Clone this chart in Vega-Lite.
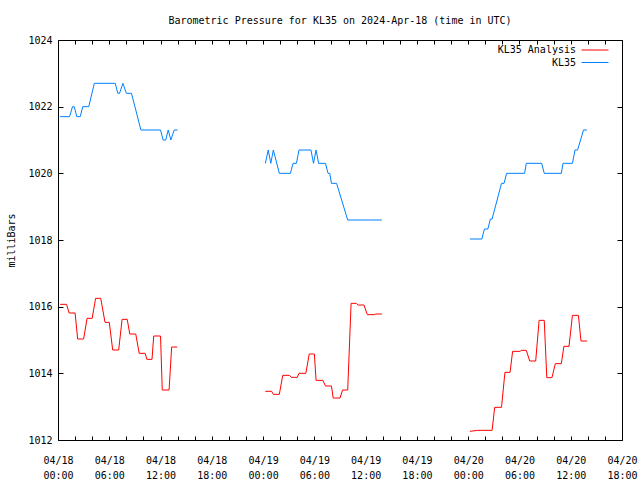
{
  "$schema": "https://vega.github.io/schema/vega-lite/v6.json",
  "width": 564,
  "height": 400,
  "autosize": {"type": "none"},
  "padding": {"left": 58, "top": 40, "right": 18, "bottom": 40},
  "background": "white",
  "title": {"text": "Barometric Pressure for KL35 on 2024-Apr-18 (time in UTC)", "font": "DejaVu Sans Mono", "fontSize": 10, "fontWeight": "normal", "color": "black", "frame": "group", "anchor": "middle", "baseline": "bottom", "offset": -1},
  "config": {
    "view": {"stroke": null},
    "font": "DejaVu Sans Mono",
    "axis": {"labelFont": "DejaVu Sans Mono", "titleFont": "DejaVu Sans Mono", "labelFontSize": 10, "titleFontSize": 10, "titleFontWeight": "normal", "labelColor": "black", "titleColor": "black", "tickColor": "black", "domainColor": "black", "tickWidth": 1, "domainWidth": 1, "grid": false}
  },
  "data": {"values": [
    {"s":"KL35 Analysis","g":1,"t":"2024-04-18T00:15:00Z","p":1016.07},
    {"s":"KL35 Analysis","g":1,"t":"2024-04-18T01:00:00Z","p":1016.07},
    {"s":"KL35 Analysis","g":1,"t":"2024-04-18T01:18:00Z","p":1015.81},
    {"s":"KL35 Analysis","g":1,"t":"2024-04-18T02:00:00Z","p":1015.81},
    {"s":"KL35 Analysis","g":1,"t":"2024-04-18T02:18:00Z","p":1015.03},
    {"s":"KL35 Analysis","g":1,"t":"2024-04-18T03:00:00Z","p":1015.03},
    {"s":"KL35 Analysis","g":1,"t":"2024-04-18T03:24:00Z","p":1015.65},
    {"s":"KL35 Analysis","g":1,"t":"2024-04-18T04:00:00Z","p":1015.65},
    {"s":"KL35 Analysis","g":1,"t":"2024-04-18T04:24:00Z","p":1016.25},
    {"s":"KL35 Analysis","g":1,"t":"2024-04-18T05:00:00Z","p":1016.25},
    {"s":"KL35 Analysis","g":1,"t":"2024-04-18T05:30:00Z","p":1015.53},
    {"s":"KL35 Analysis","g":1,"t":"2024-04-18T06:00:00Z","p":1015.53},
    {"s":"KL35 Analysis","g":1,"t":"2024-04-18T06:24:00Z","p":1014.7},
    {"s":"KL35 Analysis","g":1,"t":"2024-04-18T07:06:00Z","p":1014.7},
    {"s":"KL35 Analysis","g":1,"t":"2024-04-18T07:30:00Z","p":1015.62},
    {"s":"KL35 Analysis","g":1,"t":"2024-04-18T08:06:00Z","p":1015.62},
    {"s":"KL35 Analysis","g":1,"t":"2024-04-18T08:24:00Z","p":1015.18},
    {"s":"KL35 Analysis","g":1,"t":"2024-04-18T09:06:00Z","p":1015.18},
    {"s":"KL35 Analysis","g":1,"t":"2024-04-18T09:30:00Z","p":1014.6},
    {"s":"KL35 Analysis","g":1,"t":"2024-04-18T10:12:00Z","p":1014.6},
    {"s":"KL35 Analysis","g":1,"t":"2024-04-18T10:24:00Z","p":1014.42},
    {"s":"KL35 Analysis","g":1,"t":"2024-04-18T11:00:00Z","p":1014.42},
    {"s":"KL35 Analysis","g":1,"t":"2024-04-18T11:12:00Z","p":1015.12},
    {"s":"KL35 Analysis","g":1,"t":"2024-04-18T12:00:00Z","p":1015.12},
    {"s":"KL35 Analysis","g":1,"t":"2024-04-18T12:12:00Z","p":1013.5},
    {"s":"KL35 Analysis","g":1,"t":"2024-04-18T13:00:00Z","p":1013.5},
    {"s":"KL35 Analysis","g":1,"t":"2024-04-18T13:18:00Z","p":1014.79},
    {"s":"KL35 Analysis","g":1,"t":"2024-04-18T13:57:00Z","p":1014.79},
    {"s":"KL35 Analysis","g":2,"t":"2024-04-19T00:16:00Z","p":1013.46},
    {"s":"KL35 Analysis","g":2,"t":"2024-04-19T01:00:00Z","p":1013.46},
    {"s":"KL35 Analysis","g":2,"t":"2024-04-19T01:12:00Z","p":1013.37},
    {"s":"KL35 Analysis","g":2,"t":"2024-04-19T01:54:00Z","p":1013.37},
    {"s":"KL35 Analysis","g":2,"t":"2024-04-19T02:18:00Z","p":1013.94},
    {"s":"KL35 Analysis","g":2,"t":"2024-04-19T03:06:00Z","p":1013.94},
    {"s":"KL35 Analysis","g":2,"t":"2024-04-19T03:18:00Z","p":1013.88},
    {"s":"KL35 Analysis","g":2,"t":"2024-04-19T04:00:00Z","p":1013.88},
    {"s":"KL35 Analysis","g":2,"t":"2024-04-19T04:12:00Z","p":1014.0},
    {"s":"KL35 Analysis","g":2,"t":"2024-04-19T05:00:00Z","p":1014.0},
    {"s":"KL35 Analysis","g":2,"t":"2024-04-19T05:24:00Z","p":1014.58},
    {"s":"KL35 Analysis","g":2,"t":"2024-04-19T06:00:00Z","p":1014.58},
    {"s":"KL35 Analysis","g":2,"t":"2024-04-19T06:12:00Z","p":1013.79},
    {"s":"KL35 Analysis","g":2,"t":"2024-04-19T07:00:00Z","p":1013.79},
    {"s":"KL35 Analysis","g":2,"t":"2024-04-19T07:18:00Z","p":1013.62},
    {"s":"KL35 Analysis","g":2,"t":"2024-04-19T08:00:00Z","p":1013.62},
    {"s":"KL35 Analysis","g":2,"t":"2024-04-19T08:12:00Z","p":1013.26},
    {"s":"KL35 Analysis","g":2,"t":"2024-04-19T09:00:00Z","p":1013.26},
    {"s":"KL35 Analysis","g":2,"t":"2024-04-19T09:18:00Z","p":1013.5},
    {"s":"KL35 Analysis","g":2,"t":"2024-04-19T09:54:00Z","p":1013.5},
    {"s":"KL35 Analysis","g":2,"t":"2024-04-19T10:18:00Z","p":1016.1},
    {"s":"KL35 Analysis","g":2,"t":"2024-04-19T10:54:00Z","p":1016.1},
    {"s":"KL35 Analysis","g":2,"t":"2024-04-19T11:06:00Z","p":1016.05},
    {"s":"KL35 Analysis","g":2,"t":"2024-04-19T11:48:00Z","p":1016.05},
    {"s":"KL35 Analysis","g":2,"t":"2024-04-19T12:12:00Z","p":1015.76},
    {"s":"KL35 Analysis","g":2,"t":"2024-04-19T13:00:00Z","p":1015.76},
    {"s":"KL35 Analysis","g":2,"t":"2024-04-19T13:12:00Z","p":1015.78},
    {"s":"KL35 Analysis","g":2,"t":"2024-04-19T13:54:00Z","p":1015.78},
    {"s":"KL35 Analysis","g":3,"t":"2024-04-20T00:12:00Z","p":1012.26},
    {"s":"KL35 Analysis","g":3,"t":"2024-04-20T01:06:00Z","p":1012.29},
    {"s":"KL35 Analysis","g":3,"t":"2024-04-20T02:48:00Z","p":1012.29},
    {"s":"KL35 Analysis","g":3,"t":"2024-04-20T03:06:00Z","p":1012.98},
    {"s":"KL35 Analysis","g":3,"t":"2024-04-20T03:54:00Z","p":1012.98},
    {"s":"KL35 Analysis","g":3,"t":"2024-04-20T04:18:00Z","p":1014.03},
    {"s":"KL35 Analysis","g":3,"t":"2024-04-20T04:54:00Z","p":1014.03},
    {"s":"KL35 Analysis","g":3,"t":"2024-04-20T05:12:00Z","p":1014.66},
    {"s":"KL35 Analysis","g":3,"t":"2024-04-20T06:06:00Z","p":1014.66},
    {"s":"KL35 Analysis","g":3,"t":"2024-04-20T06:12:00Z","p":1014.69},
    {"s":"KL35 Analysis","g":3,"t":"2024-04-20T06:48:00Z","p":1014.69},
    {"s":"KL35 Analysis","g":3,"t":"2024-04-20T07:12:00Z","p":1014.37},
    {"s":"KL35 Analysis","g":3,"t":"2024-04-20T07:54:00Z","p":1014.37},
    {"s":"KL35 Analysis","g":3,"t":"2024-04-20T08:18:00Z","p":1015.59},
    {"s":"KL35 Analysis","g":3,"t":"2024-04-20T08:54:00Z","p":1015.59},
    {"s":"KL35 Analysis","g":3,"t":"2024-04-20T09:12:00Z","p":1013.87},
    {"s":"KL35 Analysis","g":3,"t":"2024-04-20T09:48:00Z","p":1013.87},
    {"s":"KL35 Analysis","g":3,"t":"2024-04-20T10:12:00Z","p":1014.29},
    {"s":"KL35 Analysis","g":3,"t":"2024-04-20T10:54:00Z","p":1014.29},
    {"s":"KL35 Analysis","g":3,"t":"2024-04-20T11:12:00Z","p":1014.81},
    {"s":"KL35 Analysis","g":3,"t":"2024-04-20T11:48:00Z","p":1014.81},
    {"s":"KL35 Analysis","g":3,"t":"2024-04-20T12:12:00Z","p":1015.74},
    {"s":"KL35 Analysis","g":3,"t":"2024-04-20T12:54:00Z","p":1015.74},
    {"s":"KL35 Analysis","g":3,"t":"2024-04-20T13:12:00Z","p":1014.97},
    {"s":"KL35 Analysis","g":3,"t":"2024-04-20T13:54:00Z","p":1014.97},
    {"s":"KL35","g":1,"t":"2024-04-18T00:15:00Z","p":1021.7},
    {"s":"KL35","g":1,"t":"2024-04-18T01:21:00Z","p":1021.7},
    {"s":"KL35","g":1,"t":"2024-04-18T01:42:00Z","p":1022.0},
    {"s":"KL35","g":1,"t":"2024-04-18T01:54:00Z","p":1022.0},
    {"s":"KL35","g":1,"t":"2024-04-18T02:12:00Z","p":1021.7},
    {"s":"KL35","g":1,"t":"2024-04-18T02:36:00Z","p":1021.7},
    {"s":"KL35","g":1,"t":"2024-04-18T02:54:00Z","p":1022.0},
    {"s":"KL35","g":1,"t":"2024-04-18T03:36:00Z","p":1022.0},
    {"s":"KL35","g":1,"t":"2024-04-18T04:15:00Z","p":1022.7},
    {"s":"KL35","g":1,"t":"2024-04-18T06:42:00Z","p":1022.7},
    {"s":"KL35","g":1,"t":"2024-04-18T07:00:00Z","p":1022.4},
    {"s":"KL35","g":1,"t":"2024-04-18T07:12:00Z","p":1022.4},
    {"s":"KL35","g":1,"t":"2024-04-18T07:36:00Z","p":1022.7},
    {"s":"KL35","g":1,"t":"2024-04-18T08:00:00Z","p":1022.4},
    {"s":"KL35","g":1,"t":"2024-04-18T08:36:00Z","p":1022.4},
    {"s":"KL35","g":1,"t":"2024-04-18T09:42:00Z","p":1021.3},
    {"s":"KL35","g":1,"t":"2024-04-18T12:00:00Z","p":1021.3},
    {"s":"KL35","g":1,"t":"2024-04-18T12:18:00Z","p":1021.0},
    {"s":"KL35","g":1,"t":"2024-04-18T12:36:00Z","p":1021.0},
    {"s":"KL35","g":1,"t":"2024-04-18T12:54:00Z","p":1021.3},
    {"s":"KL35","g":1,"t":"2024-04-18T13:12:00Z","p":1021.0},
    {"s":"KL35","g":1,"t":"2024-04-18T13:36:00Z","p":1021.3},
    {"s":"KL35","g":1,"t":"2024-04-18T14:00:00Z","p":1021.3},
    {"s":"KL35","g":2,"t":"2024-04-19T00:16:00Z","p":1020.3},
    {"s":"KL35","g":2,"t":"2024-04-19T00:36:00Z","p":1020.7},
    {"s":"KL35","g":2,"t":"2024-04-19T00:54:00Z","p":1020.3},
    {"s":"KL35","g":2,"t":"2024-04-19T01:12:00Z","p":1020.7},
    {"s":"KL35","g":2,"t":"2024-04-19T01:54:00Z","p":1020.0},
    {"s":"KL35","g":2,"t":"2024-04-19T03:12:00Z","p":1020.0},
    {"s":"KL35","g":2,"t":"2024-04-19T03:30:00Z","p":1020.3},
    {"s":"KL35","g":2,"t":"2024-04-19T03:54:00Z","p":1020.3},
    {"s":"KL35","g":2,"t":"2024-04-19T04:12:00Z","p":1020.7},
    {"s":"KL35","g":2,"t":"2024-04-19T05:36:00Z","p":1020.7},
    {"s":"KL35","g":2,"t":"2024-04-19T05:54:00Z","p":1020.3},
    {"s":"KL35","g":2,"t":"2024-04-19T06:12:00Z","p":1020.7},
    {"s":"KL35","g":2,"t":"2024-04-19T06:30:00Z","p":1020.3},
    {"s":"KL35","g":2,"t":"2024-04-19T07:18:00Z","p":1020.3},
    {"s":"KL35","g":2,"t":"2024-04-19T07:36:00Z","p":1020.0},
    {"s":"KL35","g":2,"t":"2024-04-19T07:48:00Z","p":1020.0},
    {"s":"KL35","g":2,"t":"2024-04-19T08:00:00Z","p":1019.7},
    {"s":"KL35","g":2,"t":"2024-04-19T08:36:00Z","p":1019.7},
    {"s":"KL35","g":2,"t":"2024-04-19T09:54:00Z","p":1018.6},
    {"s":"KL35","g":2,"t":"2024-04-19T13:54:00Z","p":1018.6},
    {"s":"KL35","g":3,"t":"2024-04-20T00:12:00Z","p":1018.03},
    {"s":"KL35","g":3,"t":"2024-04-20T01:36:00Z","p":1018.03},
    {"s":"KL35","g":3,"t":"2024-04-20T01:54:00Z","p":1018.33},
    {"s":"KL35","g":3,"t":"2024-04-20T02:18:00Z","p":1018.33},
    {"s":"KL35","g":3,"t":"2024-04-20T02:36:00Z","p":1018.63},
    {"s":"KL35","g":3,"t":"2024-04-20T02:48:00Z","p":1018.63},
    {"s":"KL35","g":3,"t":"2024-04-20T03:54:00Z","p":1019.7},
    {"s":"KL35","g":3,"t":"2024-04-20T04:12:00Z","p":1019.7},
    {"s":"KL35","g":3,"t":"2024-04-20T04:30:00Z","p":1020.0},
    {"s":"KL35","g":3,"t":"2024-04-20T06:36:00Z","p":1020.0},
    {"s":"KL35","g":3,"t":"2024-04-20T06:48:00Z","p":1020.3},
    {"s":"KL35","g":3,"t":"2024-04-20T08:36:00Z","p":1020.3},
    {"s":"KL35","g":3,"t":"2024-04-20T08:54:00Z","p":1020.0},
    {"s":"KL35","g":3,"t":"2024-04-20T10:54:00Z","p":1020.0},
    {"s":"KL35","g":3,"t":"2024-04-20T11:06:00Z","p":1020.3},
    {"s":"KL35","g":3,"t":"2024-04-20T12:12:00Z","p":1020.3},
    {"s":"KL35","g":3,"t":"2024-04-20T12:30:00Z","p":1020.7},
    {"s":"KL35","g":3,"t":"2024-04-20T12:48:00Z","p":1020.7},
    {"s":"KL35","g":3,"t":"2024-04-20T13:30:00Z","p":1021.3},
    {"s":"KL35","g":3,"t":"2024-04-20T13:54:00Z","p":1021.3}
  ]},
  "encoding": {
    "color": {"field": "s", "type": "nominal",
      "scale": {"domain": ["KL35 Analysis", "KL35"], "range": ["#ff0000", "#0080ff"]},
      "legend": {"orient": "none", "legendX": 532, "legendY": 5, "title": null, "symbolType": "M-3,0H3", "symbolSize": 81, "symbolStrokeWidth": 1, "rowPadding": 2.5, "padding": 0, "labelAlign": "right", "labelOffset": -24, "labelFontSize": 10, "labelFont": "DejaVu Sans Mono", "labelColor": "black", "labelBaseline": "middle"}},
    "detail": {"field": "g", "type": "nominal"}
  },
  "layer": [
    {
      "transform": [{"filter": "datum.s == 'KL35 Analysis'"}],
      "mark": {"type": "line", "strokeWidth": 1},
      "encoding": {
        "x": {"field": "t", "type": "temporal",
          "scale": {"type": "utc", "nice": false, "domain": [{"year": 2024, "month": 4, "date": 18, "hours": 0, "utc": true}, {"year": 2024, "month": 4, "date": 20, "hours": 18, "utc": true}]},
          "axis": {"orient": "bottom", "title": null, "tickSize": -4, "labelPadding": 19, "labelAngle": 0, "labelFlush": false, "labelOverlap": false, "labelLineHeight": 15,
            "values": [1713398400000, 1713405600000, 1713412800000, 1713420000000, 1713427200000, 1713434400000, 1713441600000, 1713448800000, 1713456000000, 1713463200000, 1713470400000, 1713477600000, 1713484800000, 1713492000000, 1713499200000, 1713506400000, 1713513600000, 1713520800000, 1713528000000, 1713535200000, 1713542400000, 1713549600000, 1713556800000, 1713564000000, 1713571200000, 1713578400000, 1713585600000, 1713592800000, 1713600000000, 1713607200000, 1713614400000, 1713621600000, 1713628800000, 1713636000000],
            "labelExpr": "utchours(datum.value) % 6 == 0 ? [utcFormat(datum.value, '%m/%d'), utcFormat(datum.value, '%H:%M')] : ''"}},
        "y": {"field": "p", "type": "quantitative",
          "scale": {"domain": [1012, 1024], "nice": false, "zero": false},
          "axis": {"orient": "left", "title": "milliBars", "values": [1012, 1014, 1016, 1018, 1020, 1022, 1024], "format": "d", "tickSize": -5, "labelPadding": 11, "titlePadding": 11}}
      }
    },
    {
      "transform": [{"filter": "datum.s == 'KL35'"}],
      "mark": {"type": "line", "strokeWidth": 1},
      "encoding": {
        "x": {"field": "t", "type": "temporal",
          "axis": {"orient": "top", "title": null, "labels": false, "tickSize": -4,
            "values": [1713398400000, 1713405600000, 1713412800000, 1713420000000, 1713427200000, 1713434400000, 1713441600000, 1713448800000, 1713456000000, 1713463200000, 1713470400000, 1713477600000, 1713484800000, 1713492000000, 1713499200000, 1713506400000, 1713513600000, 1713520800000, 1713528000000, 1713535200000, 1713542400000, 1713549600000, 1713556800000, 1713564000000, 1713571200000, 1713578400000, 1713585600000, 1713592800000, 1713600000000, 1713607200000, 1713614400000, 1713621600000, 1713628800000, 1713636000000]}},
        "y": {"field": "p", "type": "quantitative",
          "axis": {"orient": "right", "title": null, "labels": false, "values": [1012, 1014, 1016, 1018, 1020, 1022, 1024], "tickSize": -5}}
      }
    }
  ],
  "resolve": {"axis": {"x": "independent", "y": "independent"}}
}
